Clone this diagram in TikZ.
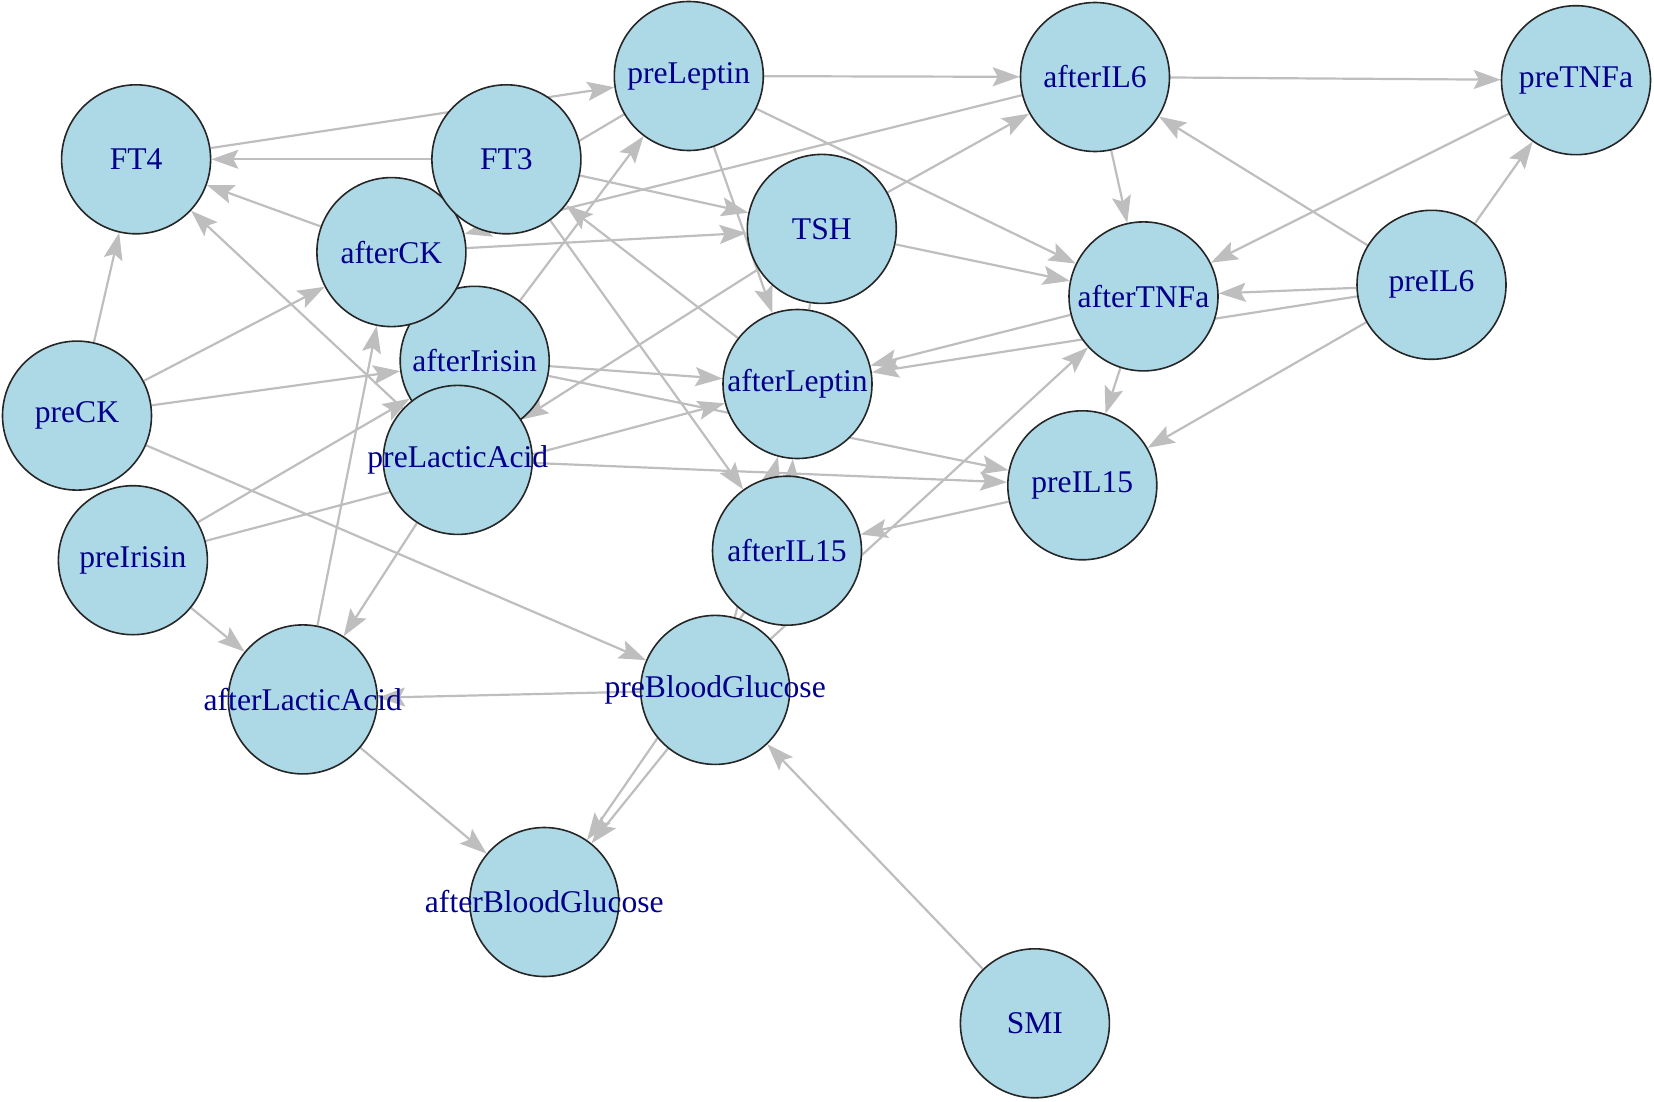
\documentclass[tikz,border=0pt]{standalone}
\usepackage{fontspec}
\setmainfont{Liberation Serif}
\usetikzlibrary{arrows.meta}
\pgfdeclarelayer{bg}
\pgfsetlayers{bg,main}
\definecolor{nodefill}{HTML}{ADD8E6}
\definecolor{labelcol}{HTML}{00008B}
\definecolor{edgecol}{HTML}{BEBEBE}
\begin{document}
\begin{tikzpicture}[x=0.5pt,y=-0.5pt,
  vnode/.style={circle, draw=black!85, line width=0.8pt, fill=nodefill, minimum size=74.5pt, inner sep=0pt},
  vlabel/.style={inner sep=0pt, text=labelcol, font=\fontsize{15.8}{18}\selectfont},
  arr/.style={draw=edgecol, line width=1.1pt, -{Stealth[length=13.5pt,width=9.5pt,inset=2.5pt]}},
  plainedge/.style={draw=edgecol, line width=1.1pt}]
\useasboundingbox (0,0) rectangle (1654,1102);
% vertices (drawing order matters for overlaps)
\node[vnode] (afterIrisin) at (474.7,360.8) {};
\node[vnode] (afterCK) at (391.4,252.1) {};
\node[vnode] (FT3) at (506.4,159.3) {};
\node[vnode] (preLacticAcid) at (457.8,459.9) {};
\node[vnode] (preLeptin) at (688.8,76.0) {};
\node[vnode] (afterIL6) at (1095.0,77.0) {};
\node[vnode] (preTNFa) at (1576.0,80.2) {};
\node[vnode] (FT4) at (136.1,159.3) {};
\node[vnode] (TSH) at (821.8,228.9) {};
\node[vnode] (afterTNFa) at (1143.5,296.4) {};
\node[vnode] (preIL6) at (1431.5,284.8) {};
\node[vnode] (afterLeptin) at (797.5,384.0) {};
\node[vnode] (preCK) at (77.0,415.6) {};
\node[vnode] (preIL15) at (1082.3,485.3) {};
\node[vnode] (preIrisin) at (132.9,560.2) {};
\node[vnode] (afterIL15) at (787.0,550.7) {};
\node[vnode] (afterLacticAcid) at (302.8,699.4) {};
\node[vnode] (preBloodGlucose) at (715.2,689.9) {};
\node[vnode] (afterBloodGlucose) at (544.3,902.0) {};
\node[vnode] (SMI) at (1034.9,1023.3) {};
% labels
\node[vlabel] (l-afterIrisin) at (afterIrisin) {afterIrisin};
\node[vlabel] (l-afterCK) at (afterCK) {afterCK};
\node[vlabel] (l-FT3) at (FT3) {FT3};
\node[vlabel] (l-preLacticAcid) at (preLacticAcid) {preLacticAcid};
\node[vlabel] (l-preLeptin) at (preLeptin) {preLeptin};
\node[vlabel] (l-afterIL6) at (afterIL6) {afterIL6};
\node[vlabel] (l-preTNFa) at (preTNFa) {preTNFa};
\node[vlabel] (l-FT4) at (FT4) {FT4};
\node[vlabel] (l-TSH) at (TSH) {TSH};
\node[vlabel] (l-afterTNFa) at (afterTNFa) {afterTNFa};
\node[vlabel] (l-preIL6) at (preIL6) {preIL6};
\node[vlabel] (l-afterLeptin) at (afterLeptin) {afterLeptin};
\node[vlabel] (l-preCK) at (preCK) {preCK};
\node[vlabel] (l-preIL15) at (preIL15) {preIL15};
\node[vlabel] (l-preIrisin) at (preIrisin) {preIrisin};
\node[vlabel] (l-afterIL15) at (afterIL15) {afterIL15};
\node[vlabel] (l-afterLacticAcid) at (afterLacticAcid) {afterLacticAcid};
\node[vlabel] (l-preBloodGlucose) at (preBloodGlucose) {preBloodGlucose};
\node[vlabel] (l-afterBloodGlucose) at (afterBloodGlucose) {afterBloodGlucose};
\node[vlabel] (l-SMI) at (SMI) {SMI};
% edges
\begin{pgfonlayer}{bg}
\draw[arr] (FT3) -- (FT4);
\draw[arr] (afterCK) -- (FT4);
\draw[arr] (preLacticAcid) -- (FT4);
\draw[arr] (preCK) -- (FT4);
\draw[arr] (FT4) -- (preLeptin);
\draw[arr] (afterIrisin) -- (preLeptin);
\draw[arr] (preLeptin) -- (afterCK);
\draw[arr] (preLeptin) -- (afterIL6);
\draw[arr] (preLeptin) -- (afterTNFa);
\draw[arr] (preLeptin) -- (afterLeptin);
\draw[arr] (afterIL6) -- (preTNFa);
\draw[arr] (afterIL6) -- (afterTNFa);
\draw[arr] (afterIL6) -- (afterCK);
\draw[arr] (preIL6) -- (afterIL6);
\draw[arr] (preIL6) -- (preTNFa);
\draw[arr] (preTNFa) -- (afterTNFa);
\draw[arr] (preIL6) -- (afterTNFa);
\draw[arr] (preIL6) -- (afterLeptin);
\draw[arr] (preIL6) -- (preIL15);
\draw[arr] (afterTNFa) -- (afterLeptin);
\draw[arr] (afterTNFa) -- (preIL15);
\draw[arr] (TSH) -- (afterIL6);
\draw[arr] (TSH) -- (afterTNFa);
\draw[arr] (TSH) -- (preLacticAcid);
\draw[plainedge] (TSH) -- (afterLeptin);
\draw[arr] (FT3) -- (TSH);
\draw[arr] (afterCK) -- (TSH);
\draw[arr] (FT3) -- (afterIL15);
\draw[arr] (afterLeptin) -- (FT3);
\draw[arr] (afterIrisin) -- (afterLeptin);
\draw[arr] (afterIrisin) -- (preIL15);
\draw[arr] (preLacticAcid) -- (preIL15);
\draw[arr] (preIrisin) -- (afterLeptin);
\draw[arr] (preIrisin) -- (afterIrisin);
\draw[arr] (preIrisin) -- (afterLacticAcid);
\draw[arr] (preLacticAcid) -- (afterLacticAcid);
\draw[arr] (afterLacticAcid) -- (afterCK);
\draw[arr] (preCK) -- (afterCK);
\draw[arr] (preCK) -- (afterIrisin);
\draw[arr] (preCK) -- (preBloodGlucose);
\draw[arr] (preIL15) -- (afterIL15);
\draw[arr] (preBloodGlucose) -- (afterTNFa);
\draw[arr] (preBloodGlucose) -- (afterLeptin);
\draw[arr] (afterIL15) -- (afterLeptin);
\draw[arr] (afterIL15) -- (afterBloodGlucose);
\draw[arr] (preBloodGlucose) -- (afterBloodGlucose);
\draw[arr] (preBloodGlucose) -- (afterLacticAcid);
\draw[arr] (afterLacticAcid) -- (afterBloodGlucose);
\draw[arr] (SMI) -- (preBloodGlucose);
\end{pgfonlayer}
\end{tikzpicture}
\end{document}
